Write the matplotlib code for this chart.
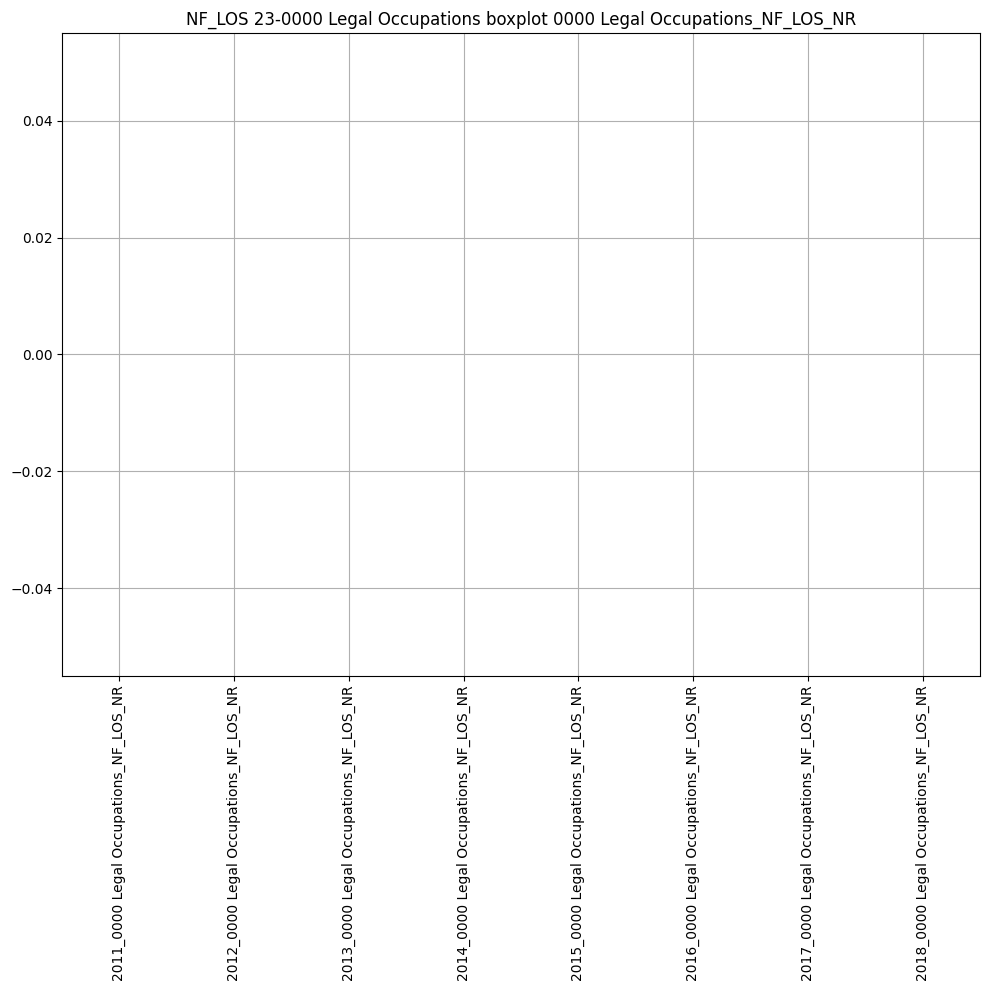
import numpy as np
import pandas as pd
import matplotlib
matplotlib.use("Agg")
import matplotlib.pyplot as plt

years = ["2011", "2012", "2013", "2014", "2015", "2016", "2017", "2018"]
columns = [f"{y}_0000 Legal Occupations_NF_LOS_NR" for y in years]
# every column is empty in the source (no records), so all values are NaN
values = [np.nan, np.nan, np.nan]

df = pd.DataFrame({c: values for c in columns})

fig, ax = plt.subplots(figsize=(9.89, 9.91))
df.boxplot(ax=ax, rot=90)
ax.set_ylim(-0.055, 0.055)
ax.set_title("NF_LOS 23-0000 Legal Occupations boxplot 0000 Legal Occupations_NF_LOS_NR")
fig.subplots_adjust(left=0.0627, right=0.9909, top=0.9667, bottom=0.3179)
fig.savefig("out.png", dpi=100)
